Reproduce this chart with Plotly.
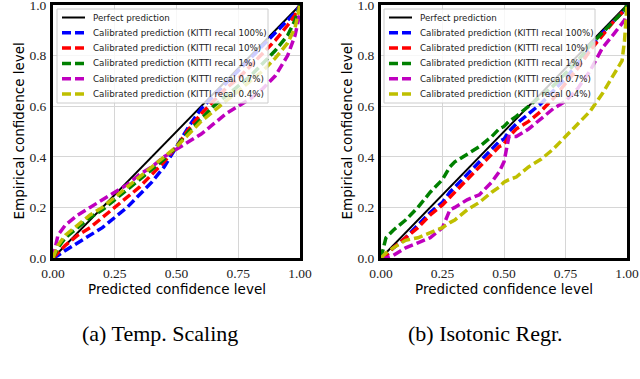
import plotly.graph_objects as go

# Temp. scaling panel (a)
xa = [0, 0.02, 0.05, 0.1, 0.15, 0.2, 0.25, 0.3, 0.35, 0.4, 0.45, 0.5, 0.55, 0.6,
      0.65, 0.7, 0.75, 0.8, 0.85, 0.9, 0.95, 0.98, 1.0]
a_100 = [0, 0.01, 0.03, 0.06, 0.09, 0.12, 0.16, 0.2, 0.25, 0.3, 0.36, 0.44, 0.52, 0.59,
         0.64, 0.69, 0.74, 0.79, 0.84, 0.89, 0.94, 0.97, 1.0]
a_10 = [0, 0.02, 0.05, 0.09, 0.12, 0.16, 0.2, 0.24, 0.28, 0.33, 0.38, 0.44, 0.51, 0.57,
        0.62, 0.67, 0.71, 0.76, 0.81, 0.86, 0.92, 0.96, 1.0]
a_1 = [0, 0.04, 0.08, 0.12, 0.16, 0.19, 0.23, 0.27, 0.31, 0.35, 0.39, 0.44, 0.5, 0.55,
       0.6, 0.64, 0.68, 0.72, 0.77, 0.82, 0.88, 0.94, 1.0]
a_07 = [0, 0.09, 0.13, 0.17, 0.2, 0.23, 0.26, 0.29, 0.33, 0.36, 0.4, 0.43, 0.46, 0.49,
        0.53, 0.57, 0.6, 0.63, 0.67, 0.72, 0.8, 0.88, 0.97]
a_04 = [0, 0.05, 0.09, 0.13, 0.17, 0.2, 0.24, 0.28, 0.32, 0.36, 0.4, 0.44, 0.49, 0.54,
        0.58, 0.62, 0.66, 0.7, 0.74, 0.79, 0.85, 0.91, 1.0]

# Isotonic regression panel (b)
xb = [0, 0.02, 0.05, 0.1, 0.15, 0.2, 0.25, 0.28, 0.3, 0.35, 0.4, 0.45, 0.48, 0.5, 0.52,
      0.55, 0.6, 0.65, 0.7, 0.75, 0.8, 0.85, 0.9, 0.95, 0.98, 0.99, 1.0]
b_100 = [0, 0.01, 0.04, 0.08, 0.13, 0.18, 0.22, 0.26, 0.28, 0.33, 0.38, 0.43, 0.46, 0.47, 0.5,
         0.53, 0.57, 0.61, 0.66, 0.71, 0.77, 0.83, 0.89, 0.94, 0.97, 0.98, 1.0]
b_10 = [0, 0.01, 0.04, 0.08, 0.12, 0.17, 0.21, 0.24, 0.26, 0.31, 0.36, 0.41, 0.44, 0.45, 0.48,
        0.51, 0.54, 0.58, 0.63, 0.69, 0.75, 0.82, 0.88, 0.94, 0.97, 0.98, 1.0]
b_1 = [0, 0.08, 0.11, 0.15, 0.2, 0.26, 0.31, 0.36, 0.38, 0.41, 0.44, 0.48, 0.51, 0.52, 0.54,
       0.56, 0.6, 0.64, 0.68, 0.73, 0.78, 0.84, 0.89, 0.94, 0.97, 0.98, 1.0]
b_07 = [0, 0.0, 0.01, 0.04, 0.06, 0.08, 0.12, 0.19, 0.2, 0.23, 0.25, 0.3, 0.34, 0.38, 0.48,
        0.48, 0.51, 0.55, 0.59, 0.62, 0.67, 0.74, 0.83, 0.89, 0.93, 0.94, 0.97]
b_04 = [0, 0.02, 0.04, 0.07, 0.08, 0.1, 0.12, 0.14, 0.15, 0.19, 0.22, 0.26, 0.28, 0.3, 0.31,
        0.32, 0.36, 0.39, 0.43, 0.48, 0.53, 0.58, 0.65, 0.73, 0.78, 0.86, 1.0]

names = ["Perfect prediction",
         "Calibrated prediction (KITTI recal 100%)",
         "Calibrated prediction (KITTI recal 10%)",
         "Calibrated prediction (KITTI recal 1%)",
         "Calibrated prediction (KITTI recal 0.7%)",
         "Calibrated prediction (KITTI recal 0.4%)"]
colors = ["#000000", "#0000ff", "#ff0000", "#008000", "#bf00bf", "#bfbf00"]
captions = ["(a) Temp. Scaling", "(b) Isotonic Regr."]

panels = [(xa, [a_100, a_10, a_1, a_07, a_04]),
          (xb, [b_100, b_10, b_1, b_07, b_04])]

W, H = 640, 379
DASH = "9px,4px"


def px(x):
    return x / W


def py(y):
    return 1 - y / H


xdoms = [[px(53), px(300)], [px(381), px(627)]]
ydom = [py(258), py(5)]
legend_left = [57, 384]

fig = go.Figure()

for i, (xs, series) in enumerate(panels):
    sfx = "" if i == 0 else "2"
    fig.add_trace(go.Scatter(x=[0, 1], y=[0, 1], mode="lines", name=names[0],
                             line=dict(color="black", width=2),
                             xaxis="x" + sfx, yaxis="y" + sfx))
    for j, ys in enumerate(series):
        fig.add_trace(go.Scatter(x=xs, y=ys, mode="lines", name=names[j + 1],
                                 line=dict(color=colors[j + 1], width=3.5, dash=DASH),
                                 xaxis="x" + sfx, yaxis="y" + sfx))

axis_common = dict(range=[0, 1], showline=True, mirror=True, linewidth=3, linecolor="black",
                   showgrid=True, gridcolor="#d6d6d6", gridwidth=1, zeroline=False,
                   ticks="", ticklabelstandoff=1, ticklabeloverflow="allow",
                   tickfont=dict(family="Liberation Serif", size=13.5, color="#222222"))

layout = dict(width=W, height=H, showlegend=False,
              margin=dict(l=0, r=0, t=0, b=0, autoexpand=False),
              plot_bgcolor="white", paper_bgcolor="white")
for i in range(2):
    sfx = "" if i == 0 else "2"
    layout["xaxis" + sfx] = dict(axis_common, domain=xdoms[i], anchor="y" + sfx,
                                 tickvals=[0, 0.25, 0.5, 0.75, 1.0],
                                 ticktext=["0.00", "0.25", "0.50", "0.75", "1.00"])
    layout["yaxis" + sfx] = dict(axis_common, domain=ydom, anchor="x" + sfx,
                                 tickvals=[0, 0.2, 0.4, 0.6, 0.8, 1.0],
                                 ticktext=["0.0", "0.2", "0.4", "0.6", "0.8", "1.0"])
fig.update_layout(**layout)

# legend boxes drawn by hand (matplotlib style, inside upper-left)
for i in range(2):
    L = legend_left[i]
    fig.add_shape(type="rect", xref="paper", yref="paper",
                  x0=px(L), x1=px(L + 211), y0=py(103), y1=py(9),
                  fillcolor="rgba(255,255,255,0.8)", line=dict(color="#cccccc", width=1),
                  layer="above")
    for k, nm in enumerate(names):
        yc = 17.5 + k * 15.3
        fig.add_shape(type="line", xref="paper", yref="paper",
                      x0=px(L + 5), x1=px(L + 28), y0=py(yc), y1=py(yc),
                      line=dict(color=colors[k], width=2 if k == 0 else 3.5,
                                dash="solid" if k == 0 else DASH),
                      layer="above")
        fig.add_annotation(text=nm, x=px(L + 34), y=py(yc), xref="paper", yref="paper",
                           xanchor="left", yanchor="middle", showarrow=False,
                           font=dict(family="DejaVu Sans", size=8.7, color="#222222"))

for i in range(2):
    cx = (xdoms[i][0] + xdoms[i][1]) / 2
    fig.add_annotation(text="Predicted confidence level", x=cx, y=py(289),
                       xref="paper", yref="paper", showarrow=False,
                       xanchor="center", yanchor="middle",
                       font=dict(family="DejaVu Sans", size=13.5, color="black"))
    fig.add_annotation(text="Empirical confidence level", x=xdoms[i][0] - px(35),
                       y=(ydom[0] + ydom[1]) / 2, xref="paper", yref="paper",
                       showarrow=False, textangle=-90,
                       xanchor="center", yanchor="middle",
                       font=dict(family="DejaVu Sans", size=13.5, color="black"))
    fig.add_annotation(text=captions[i], x=[px(160), px(485)][i], y=py(333),
                       xref="paper", yref="paper", showarrow=False,
                       xanchor="center", yanchor="middle",
                       font=dict(family="Liberation Serif", size=22, color="black"))

# page body has a default margin; remove it so the figure sits at the window origin
fig.write_html("out.html", config={"displayModeBar": False},
               post_script="document.body.style.margin='0';")
